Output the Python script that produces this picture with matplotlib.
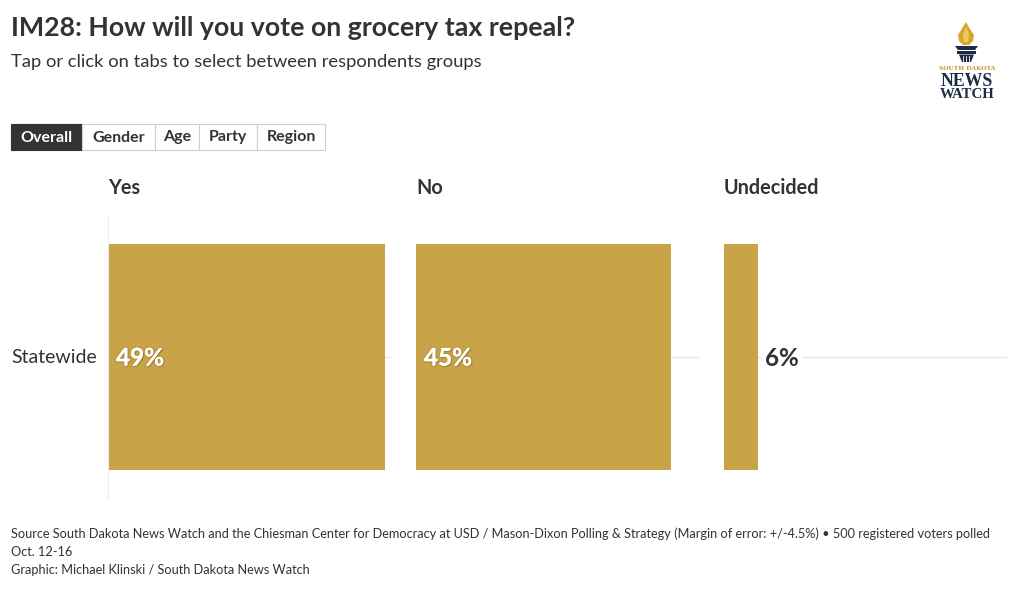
import matplotlib
matplotlib.use('Agg')
import matplotlib.pyplot as plt
from matplotlib.patches import Rectangle, Polygon
import matplotlib.patheffects as pe

# ---- data ----
title = "IM28: How will you vote on grocery tax repeal?"
subtitle = "Tap or click on tabs to select between respondents groups"
tabs = ['Overall', 'Gender', 'Age', 'Party', 'Region']
active_tab = 'Overall'
categories = ['Statewide']
series = ['Yes', 'No', 'Undecided']
yes_vals = [49]
no_vals = [45]
undecided_vals = [6]
footer_lines = [
    "Source South Dakota News Watch and the Chiesman Center for Democracy at USD / Mason-Dixon Polling & Strategy (Margin of error: +/-4.5%) \u2022 500 registered voters polled",
    "Oct. 12-16",
    "Graphic: Michael Klinski / South Dakota News Watch",
]

W, H = 1020, 589
GOLD = '#c9a347'
DARK = '#333333'
NAVY = '#1b2b45'
FONT = 'Lato'
plt.rcParams['font.family'] = [FONT, 'DejaVu Sans']

fig = plt.figure(figsize=(W / 100, H / 100), dpi=100)

def px_axes(x0, y0, x1, y1, **kw):
    return fig.add_axes([x0 / W, 1 - y1 / H, (x1 - x0) / W, (y1 - y0) / H], **kw)

# overlay for text and shapes in pixel coordinates
ov = px_axes(0, 0, W, H)
ov.set_xlim(0, W)
ov.set_ylim(H, 0)
ov.axis('off')
ov.patch.set_visible(False)

ov.text(11, 28.5, title, fontsize=19.3, fontweight='bold', color=DARK, va='center', ha='left')
ov.text(11, 62.5, subtitle, fontsize=13.2, color=DARK, va='center', ha='left')

# tabs
tab_edges = [11, 82, 155, 199, 257, 325]
for i, t in enumerate(tabs):
    x0, x1 = tab_edges[i], tab_edges[i + 1]
    active = (t == active_tab)
    ov.add_patch(Rectangle((x0, 124), x1 - x0, 26, facecolor=DARK if active else 'white',
                           edgecolor=DARK if active else '#d0d0d0', lw=0.8, zorder=2))
    ov.text((x0 + x1) / 2, 137.5, t, fontsize=11.5, fontweight='bold',
            color='white' if active else DARK, ha='center', va='center', zorder=3)

# panels
panel_x = [108, 416, 724]
panel_w = 283
py0, py1 = 214, 500
all_vals = [yes_vals, no_vals, undecided_vals]
for k, (name, vals) in enumerate(zip(series, all_vals)):
    x0 = panel_x[k]
    ax = px_axes(x0, py0, x0 + panel_w, py1)
    ax.set_xlim(0, 50)
    ax.set_ylim(-0.5, 0.5)
    ax.axhline(0, color='#e8e8e8', lw=1, zorder=0)
    ax.barh(range(len(categories)), vals, height=0.79, color=GOLD, zorder=2)
    for s in ax.spines.values():
        s.set_visible(False)
    if k == 0:
        ax.spines['left'].set_visible(True)
        ax.spines['left'].set_color('#eeeeee')
        ax.spines['left'].set_bounds(-0.5, 0.5)
    ax.set_xticks([])
    ax.set_yticks([])
    ax.patch.set_visible(False)
    for j, v in enumerate(vals):
        if v * panel_w / 50 > 60:
            ax.annotate(f'{v}%', xy=(0, j), xytext=(8, -1), textcoords='offset pixels',
                        ha='left', va='center', fontsize=17.5, fontweight='bold', color='white',
                        zorder=4,
                        path_effects=[pe.withSimplePatchShadow(offset=(0.8, -0.8), shadow_rgbFace='#5a4510', alpha=0.45),
                                      pe.withStroke(linewidth=2.5, foreground='#b08d3a', alpha=0.35),
                                      pe.Normal()])
        else:
            ax.annotate(f'{v}%', xy=(v, j), xytext=(7, -1), textcoords='offset pixels',
                        ha='left', va='center', fontsize=17.5, fontweight='bold', color=DARK,
                        zorder=4, bbox=dict(boxstyle='square,pad=0.15', fc='white', ec='none'))
    ov.text(x0, 188, name, fontsize=14.3, fontweight='bold', color=DARK, ha='left', va='center')

for j, c in enumerate(categories):
    ov.text(11, 357.5, c, fontsize=14, color=DARK, ha='left', va='center')

# footer
for i, line in enumerate(footer_lines):
    ov.text(11, 533.5 + i * 18, line, fontsize=9.22, color=DARK, ha='left', va='center')

# logo
flame = [(966, 22), (970, 29), (974, 35), (973, 41), (969, 45), (963, 45), (959, 41), (958, 35), (961, 30)]
ov.add_patch(Polygon(flame, closed=True, fc='#d8a531', ec='none'))
ov.add_patch(Polygon([(966, 27), (969, 34), (968, 42), (964, 42), (963, 35)], closed=True, fc='#f0c75a', ec='none'))
ov.add_patch(Polygon([(955, 46), (978, 46), (975, 50), (958, 50)], closed=True, fc=NAVY, ec='none'))
ov.add_patch(Rectangle((957, 51), 19, 2.5, fc=NAVY, ec='none'))
ov.add_patch(Polygon([(959, 54.5), (974, 54.5), (971, 62), (962, 62)], closed=True, fc=NAVY, ec='none'))
for xx in [963.5, 966.5, 969.5]:
    ov.plot([xx, xx], [56, 61], color='white', lw=0.6)
ov.text(967, 68, 'SOUTH DAKOTA', fontsize=4.3, color='#c9962d', ha='center', va='center',
        family='DejaVu Serif', fontweight='bold')
ov.text(967, 85.5, 'NEWS', fontsize=12.8, color=NAVY, ha='center', va='baseline',
        family='Liberation Serif', fontweight='bold')
ov.text(967, 97.5, 'WATCH', fontsize=10.6, color=NAVY, ha='center', va='baseline',
        family='Liberation Serif', fontweight='bold')

fig.savefig('out.png', dpi=100)
